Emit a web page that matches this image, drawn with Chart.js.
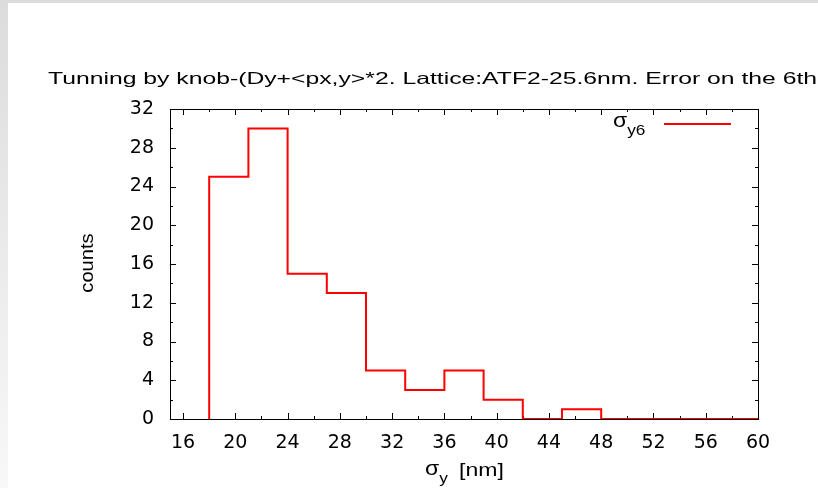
<!DOCTYPE html>
<html>
<head>
<meta charset="utf-8">
<script src="https://cdn.jsdelivr.net/npm/chart.js@4.4.1/dist/chart.umd.min.js"></script>
<style>
    html, body { margin: 0; padding: 0; }
    body { width: 818px; height: 488px; background: #fff; position: relative; overflow: hidden; }
    #edgeTop { position: absolute; left: 0; top: 0; width: 818px; height: 3px; background: #dcdcdc; }
    #edgeLeft { position: absolute; left: 0; top: 0; width: 8px; height: 488px; background: linear-gradient(#dcdcdc, #f8f8f8); }
    #chart { position: absolute; left: 0; top: 0; }
</style>
</head>
<body>
<div id="edgeTop"></div>
<div id="edgeLeft"></div>
<canvas id="chart" width="818" height="488"></canvas>
<script>
// Histogram data (bin width 3 nm)
const binEdges = [18, 21, 24, 27, 30, 33, 36, 39, 42, 45, 48, 51, 54, 57, 60];
const counts   = [25, 30, 15, 13, 5, 3, 5, 2, 0, 1, 0, 0, 0, 0];

// Axis ticks
const xTicks = [16, 20, 24, 28, 32, 36, 40, 44, 48, 52, 56, 60];
const xMinorTicks = [18, 22, 26, 30, 34, 38, 42, 46, 50, 54, 58];
const yTicks = [0, 4, 8, 12, 16, 20, 24, 28, 32];
const yMinorTicks = [2, 6, 10, 14, 18, 22, 26, 30];

const titleText = 'Tunning by knob-(Dy+<px,y>*2. Lattice:ATF2-25.6nm. Error on the 6th';
const RED = '#ff0000';

// step points: start at the bottom of the first edge, hold each count until next edge
const points = [{ x: binEdges[0], y: 0 }];
counts.forEach((c, i) => points.push({ x: binEdges[i], y: c }));
points.push({ x: binEdges[binEdges.length - 1], y: counts[counts.length - 1] });

// draw text stretched horizontally (the original fonts are wide)
function stretchText(ctx, txt, x, y, font, sx) {
    ctx.save();
    ctx.font = font;
    ctx.translate(x, y);
    ctx.scale(sx, 1);
    ctx.fillText(txt, 0, 0);
    const w = ctx.measureText(txt).width * sx;
    ctx.restore();
    return w;
}

const framePlugin = {
    id: 'gnuplotFrame',
    beforeDatasetsDraw(chart) {
        const { ctx, chartArea: a, scales: { x, y } } = chart;
        ctx.save();
        ctx.strokeStyle = '#000';
        ctx.lineWidth = 1;
        ctx.strokeRect(a.left + 0.5, a.top + 0.5, a.right - a.left, a.bottom - a.top);
        ctx.beginPath();
        const tickX = (v, len) => {
            const px = Math.round(x.getPixelForValue(v)) + 0.5;
            ctx.moveTo(px, a.bottom); ctx.lineTo(px, a.bottom - len);
            ctx.moveTo(px, a.top); ctx.lineTo(px, a.top + len);
        };
        const tickY = (v, len) => {
            const py = Math.round(y.getPixelForValue(v)) + 0.5;
            ctx.moveTo(a.left, py); ctx.lineTo(a.left + len, py);
            ctx.moveTo(a.right, py); ctx.lineTo(a.right - len, py);
        };
        xTicks.forEach(v => tickX(v, 6));
        xMinorTicks.forEach(v => tickX(v, 3));
        yTicks.forEach(v => tickY(v, 6));
        yMinorTicks.forEach(v => tickY(v, 3));
        ctx.stroke();
        ctx.restore();
    },
    afterDraw(chart) {
        const { ctx } = chart;
        ctx.save();
        ctx.fillStyle = '#000';
        ctx.textBaseline = 'alphabetic';
        ctx.textAlign = 'left';

        // title
        ctx.font = '16.5px "Liberation Sans"';
        const tw = ctx.measureText(titleText).width;
        stretchText(ctx, titleText, 48, 84, '16.5px "Liberation Sans"', 769 / tw);

        // y axis title
        ctx.save();
        ctx.translate(93, 263);
        ctx.rotate(-Math.PI / 2);
        ctx.font = '18px "Liberation Sans"';
        const cw = ctx.measureText('counts').width * 1.12;
        stretchText(ctx, 'counts', -cw / 2, 0, '18px "Liberation Sans"', 1.12);
        ctx.restore();

        // x axis title: sigma_y [nm]
        let px = 425;
        px += stretchText(ctx, 'σ', px, 475, '20px "Liberation Sans"', 1.15);
        stretchText(ctx, 'y', px, 483, '15px "Liberation Sans"', 1.15);
        stretchText(ctx, '[nm]', 459, 476, '18px "Liberation Sans"', 1.28);

        // legend
        let lx = 613;
        lx += stretchText(ctx, 'σ', lx, 127, '20px "Liberation Sans"', 1.15);
        stretchText(ctx, 'y6', lx, 135, '15px "Liberation Sans"', 1.15);
        ctx.strokeStyle = RED;
        ctx.lineWidth = 2;
        ctx.beginPath();
        ctx.moveTo(664, 124);
        ctx.lineTo(731, 124);
        ctx.stroke();
        ctx.restore();
    }
};

const tickFont = { family: '"DejaVu Sans"', size: 19 };

new Chart(document.getElementById('chart'), {
    type: 'line',
    data: {
        datasets: [{
            data: points,
            borderColor: RED,
            borderWidth: 2,
            stepped: true,
            pointRadius: 0,
            fill: false
        }]
    },
    options: {
        responsive: false,
        animation: false,
        layout: { padding: { left: 0, right: 60, top: 109, bottom: 0 } },
        plugins: { legend: { display: false }, tooltip: { enabled: false }, title: { display: false } },
        scales: {
            x: {
                type: 'linear',
                min: 15,
                max: 60,
                afterFit: s => { s.height = 69; },
                afterBuildTicks: s => { s.ticks = xTicks.map(v => ({ value: v })); },
                grid: { display: false, drawTicks: false },
                border: { display: false },
                ticks: { color: '#000', font: tickFont, padding: 13, maxRotation: 0, autoSkip: false }
            },
            y: {
                min: 0,
                max: 32,
                afterFit: s => { s.width = 170; },
                afterBuildTicks: s => { s.ticks = yTicks.map(v => ({ value: v })); },
                grid: { display: false, drawTicks: false },
                border: { display: false },
                ticks: { color: '#000', font: tickFont, padding: 16, autoSkip: false }
            }
        }
    },
    plugins: [framePlugin]
});
</script>
</body>
</html>
